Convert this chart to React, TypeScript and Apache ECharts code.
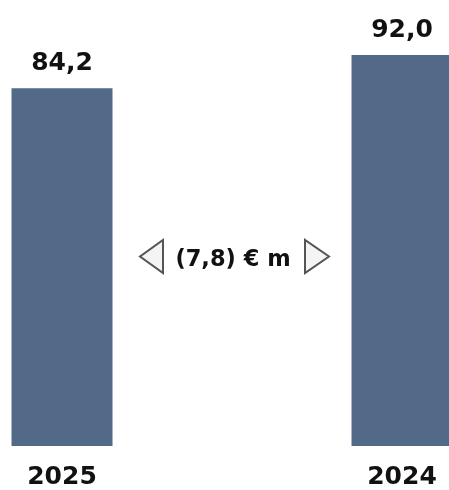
import React, { useEffect, useRef } from "react";
import * as echarts from "echarts";

const categories = ["2025", "2024"];
const values = [84.2, 92.0];
const deltaText = "(7,8) € m";

const FONT = "DejaVu Sans";

export default function App() {
  const ref = useRef<HTMLDivElement>(null);
  useEffect(() => {
    const chart = echarts.init(ref.current!, undefined, { renderer: "svg" });
    const positions = categories.map((_, i) => i);
    chart.setOption({
      animation: false,
      grid: { left: 0, right: 0, top: 55, bottom: 44 },
      xAxis: {
        type: "value",
        min: -0.1824,
        max: 1.1382,
        splitLine: { show: false },
        axisLine: { show: false },
        axisTick: { show: false },
        axisLabel: {
          customValues: positions,
          formatter: (v: number) => categories[Math.round(v)] ?? "",
          margin: 19,
          lineHeight: 20,
          fontSize: 25,
          fontWeight: "bold",
          fontFamily: FONT,
          color: "#111",
        },
      },
      yAxis: { type: "value", min: 0, max: 92, show: false },
      series: [
        {
          type: "bar",
          data: values.map((v, i) => [positions[i], v]),
          barWidth: 101,
          itemStyle: { color: "#526a88" },
          label: {
            show: true,
            position: "top",
            distance: 14,
            fontSize: 25,
            fontWeight: "bold",
            fontFamily: FONT,
            color: "#111",
            formatter: (p: any) => p.value[1].toFixed(1).replace(".", ","),
          },
        },
      ],
      graphic: [
        {
          type: "polygon",
          z: 100,
          shape: { points: [[163, 240], [163, 273], [140, 256.5]] },
          style: { fill: "#f4f4f4", stroke: "#555", lineWidth: 2 },
        },
        {
          type: "polygon",
          z: 100,
          shape: { points: [[305, 240], [305, 273], [329, 256.5]] },
          style: { fill: "#f4f4f4", stroke: "#555", lineWidth: 2 },
        },
        {
          type: "text",
          z: 100,
          x: 233,
          y: 258,
          style: {
            text: deltaText,
            align: "center",
            verticalAlign: "middle",
            fontSize: 22.5,
            fontWeight: "bold",
            fontFamily: FONT,
            fill: "#111",
          },
        },
      ],
    });
    return () => chart.dispose();
  }, []);
  return (
    <div
      ref={ref}
      style={{ position: "fixed", left: 0, top: 0, width: 449, height: 490 }}
    />
  );
}
